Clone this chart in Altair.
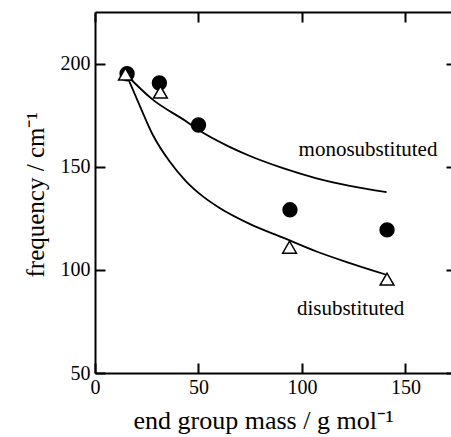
import altair as alt
import pandas as pd

FONT = "Liberation Serif"

# ---- data ----
mono_mass = [15.5, 31.1, 50.0, 94.2, 141.1]
mono_freq = [195.1, 190.6, 170.2, 129.1, 119.4]

di_mass = [14.7, 31.6, 94.0, 141.1]
di_freq = [194.9, 186.2, 111.0, 95.5]

mono_curve_x = [15.0, 27.9, 44.0, 49.7, 65.0, 74.6, 90.8, 107.0, 123.1, 140.9]
mono_curve_y = [194.7, 182.5, 172.0, 168.0, 159.6, 155.3, 149.3, 144.4, 140.7, 137.7]

di_curve_x = [15.0, 21.4, 27.9, 36.0, 44.0, 52.1, 60.2, 74.7, 90.8, 107.0, 123.1, 140.9]
di_curve_y = [195.0, 180.1, 165.5, 152.6, 142.9, 135.6, 130.0, 122.3, 115.6, 108.9, 103.3, 97.6]

label_text = ["monosubstituted", "disubstituted"]
label_x = [131.9, 123.5]
label_y = [155.3, 78.2]

x_ticks = [0, 50, 100, 150]
y_ticks = [50, 100, 150, 200]
x_domain = [0, 172]
y_domain = [50, 225]

# ---- tables ----
mono_df = pd.DataFrame({"m": mono_mass, "f": mono_freq})
di_df = pd.DataFrame({"m": di_mass, "f": di_freq})
curve_df = pd.concat([
    pd.DataFrame({"m": mono_curve_x, "f": mono_curve_y, "s": "mono"}),
    pd.DataFrame({"m": di_curve_x, "f": di_curve_y, "s": "di"}),
])
label_df = pd.DataFrame({"t": label_text, "m": label_x, "f": label_y})

xs = alt.Scale(domain=x_domain, nice=False, zero=False)
ys = alt.Scale(domain=y_domain, nice=False, zero=False)

ax_x_main = alt.Axis(
    orient="bottom", values=x_ticks, grid=False,
    domain=True, domainColor="black", domainWidth=2,
    ticks=False, labels=True, labelFont=FONT, labelFontSize=20,
    labelColor="black", labelPadding=4, labelFlush=False,
    title="end group mass / g mol\u207b\u00b9", titleFont=FONT, titleFontSize=26,
    titleFontWeight="normal", titleColor="black", titleAlign="left",
    titleBaseline="alphabetic", titleX=38, titleY=55,
)
ax_y_main = alt.Axis(
    orient="left", values=y_ticks, grid=False,
    domain=True, domainColor="black", domainWidth=2,
    ticks=False, labels=True, labelFont=FONT, labelFontSize=20,
    labelColor="black", labelPadding=5, labelFlush=False,
    title="frequency / cm\u207b\u00b9", titleFont=FONT, titleFontSize=25,
    titleFontWeight="normal", titleColor="black", titleAngle=270,
    titleAlign="left", titleBaseline="alphabetic", titleX=-52, titleY=265,
)

def tick_axis(orient, offset, size):
    return alt.Axis(
        orient=orient, offset=offset, values=x_ticks if orient in ("top", "bottom") else y_ticks,
        grid=False, domain=False, labels=False, ticks=True, tickSize=size,
        tickWidth=2, tickColor="black", title=None,
    )

ax_x_top_frame = alt.Axis(
    orient="top", grid=False, domain=True, domainColor="black", domainWidth=2,
    ticks=False, labels=False, title=None,
)

ghost = alt.Chart(mono_df).mark_point(opacity=0)

t1 = ghost.encode(
    x=alt.X("m:Q", scale=xs, axis=tick_axis("bottom", -10, 10)),
    y=alt.Y("f:Q", scale=ys, axis=tick_axis("left", -10, 10)),
)
t2 = ghost.encode(
    x=alt.X("m:Q", scale=xs, axis=tick_axis("top", -10, 10)),
    y=alt.Y("f:Q", scale=ys, axis=tick_axis("right", -5, 5)),
)
t3 = ghost.encode(
    x=alt.X("m:Q", scale=xs, axis=ax_x_top_frame),
    y=alt.Y("f:Q", scale=ys, axis=None),
)

lines = alt.Chart(curve_df).mark_line(
    color="black", strokeWidth=1.8, interpolate="monotone"
).encode(
    x=alt.X("m:Q", scale=xs, axis=ax_x_main),
    y=alt.Y("f:Q", scale=ys, axis=ax_y_main),
    detail="s:N",
)

circles = alt.Chart(mono_df).mark_point(
    shape="circle", filled=True, fill="black", stroke="black", size=180, opacity=1
).encode(
    x=alt.X("m:Q", scale=xs, axis=None),
    y=alt.Y("f:Q", scale=ys, axis=None),
)

triangles = alt.Chart(di_df).mark_point(
    shape="triangle-up", filled=True, fill="white", stroke="black",
    strokeWidth=1.5, size=190, opacity=1,
).encode(
    x=alt.X("m:Q", scale=xs, axis=None),
    y=alt.Y("f:Q", scale=ys, axis=None),
)

texts = alt.Chart(label_df).mark_text(
    font=FONT, fontSize=21, color="black", align="center", baseline="alphabetic"
).encode(
    x=alt.X("m:Q", scale=xs, axis=None),
    y=alt.Y("f:Q", scale=ys, axis=None),
    text="t:N",
)

chart = alt.layer(t1, t2, t3, lines, circles, triangles, texts).resolve_axis(
    x="independent", y="independent"
).properties(
    width=356, height=361,
    padding={"left": 95, "top": 12, "right": 0, "bottom": 64},
    autosize=alt.AutoSizeParams(type="none"),
    background="white",
).configure_view(stroke=None)

chart.save("out.html", embed_options={"renderer": "svg", "actions": False})
